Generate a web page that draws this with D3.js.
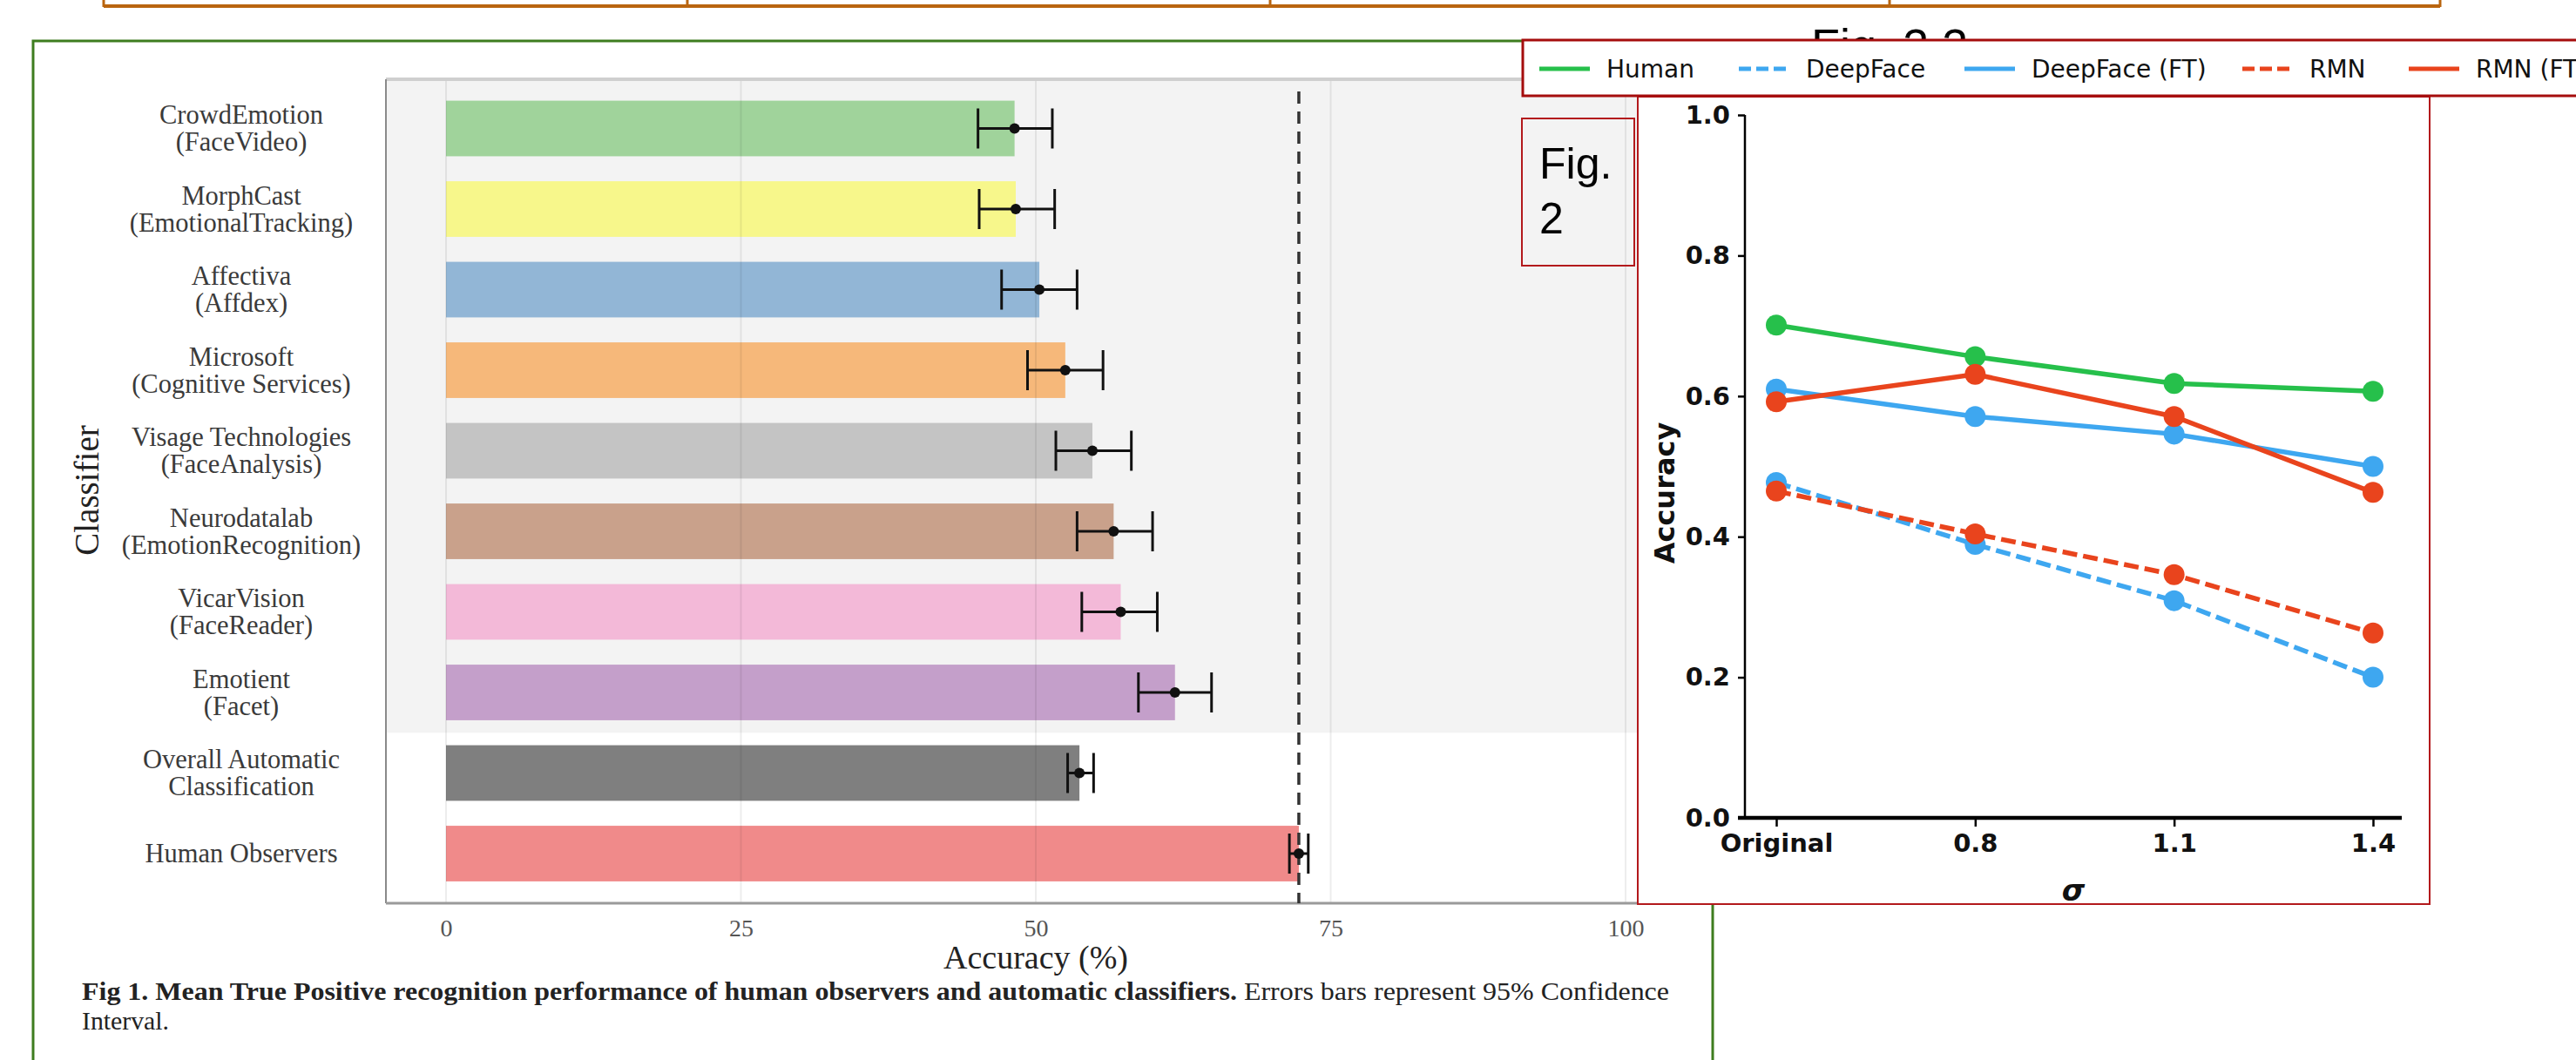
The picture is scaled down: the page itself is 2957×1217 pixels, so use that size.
<!DOCTYPE html>
<html>
<head>
<meta charset="utf-8">
<script src="https://cdn.jsdelivr.net/npm/d3@7"></script>
<style>
  body { margin: 0; background: #fff; }
  svg { display: block; }
</style>
</head>
<body>
<svg id="chart" width="2957" height="1217"></svg>
<script>
// ---- Fig 1 data: classifier accuracy with 95% CI ----
const classifierLines = [
  ['CrowdEmotion', '(FaceVideo)'],
  ['MorphCast', '(EmotionalTracking)'],
  ['Affectiva', '(Affdex)'],
  ['Microsoft', '(Cognitive Services)'],
  ['Visage Technologies', '(FaceAnalysis)'],
  ['Neurodatalab', '(EmotionRecognition)'],
  ['VicarVision', '(FaceReader)'],
  ['Emotient', '(Facet)'],
  ['Overall Automatic', 'Classification'],
  ['Human Observers']
];
const accuracy = [48.2, 48.3, 50.3, 52.5, 54.8, 56.6, 57.2, 61.8, 53.7, 72.3];
const ciLow    = [45.1, 45.2, 47.1, 49.3, 51.7, 53.5, 53.9, 58.7, 52.7, 71.5];
const ciHigh   = [51.4, 51.6, 53.5, 55.7, 58.1, 59.9, 60.3, 64.9, 54.9, 73.1];
const barColors = ['#a0d39b', '#f7f78b', '#92b6d6', '#f6b87a', '#c4c4c4',
                   '#c9a18b', '#f3b9d8', '#c49fca', '#7f7f7f', '#f08a8a'];
const xTicks1 = [0, 25, 50, 75, 100];
const humanMean = 72.3;

// ---- Fig 2 data: accuracy vs blur sigma ----
const sigmaLabels = ['Original', '0.8', '1.1', '1.4'];
const human      = [0.701, 0.656, 0.618, 0.607];
const deepFace   = [0.477, 0.389, 0.309, 0.200];
const deepFaceFT = [0.610, 0.571, 0.546, 0.500];
const rmn        = [0.465, 0.404, 0.346, 0.263];
const rmnFT      = [0.592, 0.631, 0.571, 0.463];
const yTicks2 = [0, 0.2, 0.4, 0.6, 0.8, 1.0];

const green = '#26c04b', blue = '#3ea7f0', red = '#e9441d';
const series = [
  { name: 'Human', values: human, color: green, dash: null },
  { name: 'DeepFace', values: deepFace, color: blue, dash: '17,7' },
  { name: 'DeepFace (FT)', values: deepFaceFT, color: blue, dash: null },
  { name: 'RMN', values: rmn, color: red, dash: '17,7' },
  { name: 'RMN (FT)', values: rmnFT, color: red, dash: null }
];

const svg = d3.select('#chart');

// top table edge (orange)
const tableCols = [119, 789, 1458, 2169, 2801];
svg.append('line').attr('x1', 119).attr('x2', 2801).attr('y1', 7).attr('y2', 7)
  .attr('stroke', '#b9650f').attr('stroke-width', 4);
svg.selectAll('.tcol').data(tableCols).enter().append('line')
  .attr('x1', d => d).attr('x2', d => d).attr('y1', -2).attr('y2', 8)
  .attr('stroke', '#b9650f').attr('stroke-width', 3);

// green frame round Fig 1
svg.append('path')
  .attr('d', 'M38,1230 L38,47 L1966,47 L1966,1230')
  .attr('fill', 'none').attr('stroke', '#3e7d1f').attr('stroke-width', 3);

// ================= Fig 1 =================
const x1 = d3.scaleLinear().domain([0, 100]).range([512, 1866]);
const y1 = d3.scaleBand().domain(d3.range(classifierLines.length))
  .range([101.25, 1026.25]).paddingInner(0.31).paddingOuter(0.155);

const frame = { left: 443, top: 91, right: 1935, bottom: 1037 };
const g1 = svg.append('g').attr('class', 'fig1');

// background: grey for the individual classifiers, white for the summaries
const greyBottom = y1(7) + y1.bandwidth() + (y1.step() - y1.bandwidth()) / 2;
g1.append('rect').attr('x', frame.left).attr('y', frame.top)
  .attr('width', frame.right - frame.left).attr('height', greyBottom - frame.top)
  .attr('fill', '#f3f3f3');

// bars
g1.selectAll('.bar').data(accuracy).enter().append('rect')
  .attr('class', 'bar')
  .attr('x', x1(0))
  .attr('y', (d, i) => y1(i))
  .attr('width', d => x1(d) - x1(0))
  .attr('height', y1.bandwidth())
  .attr('fill', (d, i) => barColors[i]);

// vertical grid lines
g1.selectAll('.grid').data(xTicks1).enter().append('line')
  .attr('x1', d => x1(d)).attr('x2', d => x1(d))
  .attr('y1', frame.top).attr('y2', frame.bottom)
  .attr('stroke', '#000').attr('stroke-opacity', 0.07).attr('stroke-width', 2);

// frame lines
g1.append('line').attr('x1', frame.left).attr('x2', frame.right)
  .attr('y1', frame.top).attr('y2', frame.top).attr('stroke', '#cfcfcf').attr('stroke-width', 4);
g1.append('line').attr('x1', frame.left).attr('x2', frame.left)
  .attr('y1', frame.top).attr('y2', frame.bottom).attr('stroke', '#8a8a8a').attr('stroke-width', 2);
g1.append('line').attr('x1', frame.left).attr('x2', frame.right)
  .attr('y1', frame.bottom).attr('y2', frame.bottom).attr('stroke', '#9a9a9a').attr('stroke-width', 3);

// dashed line at the human mean
g1.append('line').attr('x1', x1(humanMean)).attr('x2', x1(humanMean))
  .attr('y1', 105).attr('y2', frame.bottom)
  .attr('stroke', '#333').attr('stroke-width', 3.5).attr('stroke-dasharray', '14,9');

// error bars
const capH = 46;
const eb = g1.selectAll('.err').data(accuracy).enter().append('g').attr('class', 'err')
  .attr('transform', (d, i) => 'translate(0,' + (y1(i) + y1.bandwidth() / 2) + ')');
eb.append('line').attr('x1', (d, i) => x1(ciLow[i])).attr('x2', (d, i) => x1(ciHigh[i]))
  .attr('stroke', '#111').attr('stroke-width', 3);
eb.append('line').attr('x1', (d, i) => x1(ciLow[i])).attr('x2', (d, i) => x1(ciLow[i]))
  .attr('y1', -capH / 2).attr('y2', capH / 2).attr('stroke', '#111').attr('stroke-width', 3);
eb.append('line').attr('x1', (d, i) => x1(ciHigh[i])).attr('x2', (d, i) => x1(ciHigh[i]))
  .attr('y1', -capH / 2).attr('y2', capH / 2).attr('stroke', '#111').attr('stroke-width', 3);
eb.append('circle').attr('cx', d => x1(d)).attr('r', 6).attr('fill', '#111');

// x axis ticks (labels only)
const xAxis1 = g1.append('g').attr('transform', 'translate(0,' + frame.bottom + ')')
  .call(d3.axisBottom(x1).tickValues(xTicks1).tickSize(0).tickPadding(0));
xAxis1.select('.domain').remove();
xAxis1.selectAll('text')
  .attr('y', 38).attr('dy', 0)
  .attr('font-family', 'Liberation Serif').attr('font-size', 28).attr('fill', '#555');

g1.append('text').attr('x', x1(50)).attr('y', 1112)
  .attr('text-anchor', 'middle').attr('font-family', 'Liberation Serif')
  .attr('font-size', 38).attr('fill', '#222').text('Accuracy (%)');

// classifier labels
const lab = g1.selectAll('.lab').data(classifierLines).enter().append('text')
  .attr('class', 'lab')
  .attr('text-anchor', 'middle')
  .attr('font-family', 'Liberation Serif').attr('font-size', 30.5).attr('fill', '#3a3a3a');
lab.each(function (lines, i) {
  const c = y1(i) + y1.bandwidth() / 2;
  const t = d3.select(this);
  if (lines.length === 1) {
    t.append('tspan').attr('x', 277).attr('y', c + 10).text(lines[0]);
  } else {
    t.append('tspan').attr('x', 277).attr('y', c - 5.5).text(lines[0]);
    t.append('tspan').attr('x', 277).attr('y', c + 25.5).text(lines[1]);
  }
});

g1.append('text').attr('transform', 'translate(113,563) rotate(-90)')
  .attr('text-anchor', 'middle').attr('font-family', 'Liberation Serif')
  .attr('font-size', 39).attr('fill', '#222').text('Classifier');

// caption
const cap = g1.append('text').attr('x', 94).attr('y', 1148)
  .attr('font-family', 'Liberation Serif').attr('font-size', 30).attr('fill', '#222')
  .attr('textLength', 1822).attr('lengthAdjust', 'spacingAndGlyphs');
cap.append('tspan').attr('font-weight', 'bold')
  .text('Fig 1. Mean True Positive recognition performance of human observers and automatic classifiers.');
cap.append('tspan').text(' Errors bars represent 95% Confidence');
g1.append('text').attr('x', 94).attr('y', 1182)
  .attr('font-family', 'Liberation Serif').attr('font-size', 30).attr('fill', '#222')
  .attr('textLength', 100).attr('lengthAdjust', 'spacingAndGlyphs')
  .text('Interval.');

// small "Fig. 2" label box
svg.append('rect').attr('x', 1747).attr('y', 136).attr('width', 129).attr('height', 169)
  .attr('fill', 'none').attr('stroke', '#b3191c').attr('stroke-width', 2);
const figLab = svg.append('text').attr('font-family', 'Liberation Sans')
  .attr('font-size', 50).attr('fill', '#000');
figLab.append('tspan').attr('x', 1767).attr('y', 205).text('Fig.');
figLab.append('tspan').attr('x', 1767).attr('y', 268).text('2');

// heading partly hidden behind the legend
svg.append('clipPath').attr('id', 'headClip')
  .append('rect').attr('x', 2000).attr('y', 0).attr('width', 400).attr('height', 46);
svg.append('text').attr('x', 2079).attr('y', 71).attr('font-family', 'Liberation Sans')
  .attr('clip-path', 'url(#headClip)')
  .attr('font-size', 54).attr('fill', '#000').text('Fig. 2.2');

// ================= Fig 2 =================
svg.append('rect').attr('x', 1880).attr('y', 111).attr('width', 909).attr('height', 927)
  .attr('fill', '#fff').attr('stroke', '#b3191c').attr('stroke-width', 2);

const x2 = d3.scalePoint().domain(sigmaLabels).range([2039, 2724]);
const y2 = d3.scaleLinear().domain([0, 1]).range([939, 132]);
const g2 = svg.append('g').attr('class', 'fig2');

const yAxis2 = g2.append('g').attr('transform', 'translate(2003,0)')
  .call(d3.axisLeft(y2).tickValues(yTicks2).tickFormat(d3.format('.1f')).tickSize(8).tickPadding(9));
yAxis2.select('.domain').attr('stroke-width', 2.5).attr('d', 'M0,' + y2(1) + 'V' + y2(0));
yAxis2.selectAll('.tick line').attr('stroke-width', 2.5);
yAxis2.selectAll('text').attr('font-family', 'DejaVu Sans').attr('font-weight', 'bold')
  .attr('font-size', 29).attr('fill', '#111');

const xAxis2 = g2.append('g').attr('transform', 'translate(0,' + y2(0) + ')')
  .call(d3.axisBottom(x2).tickSize(10).tickPadding(8));
xAxis2.select('.domain').attr('stroke-width', 4.5).attr('d', 'M1995,0H2757');
xAxis2.selectAll('.tick line').attr('stroke-width', 2.5);
xAxis2.selectAll('text').attr('font-family', 'DejaVu Sans').attr('font-weight', 'bold')
  .attr('font-size', 29).attr('fill', '#111');

g2.append('text').attr('transform', 'translate(1922,566) rotate(-90)')
  .attr('text-anchor', 'middle').attr('font-family', 'DejaVu Sans').attr('font-weight', 'bold')
  .attr('font-size', 32).attr('fill', '#111').text('Accuracy');
g2.append('text').attr('x', 2380).attr('y', 1034).attr('text-anchor', 'middle')
  .attr('font-family', 'DejaVu Sans').attr('font-style', 'italic').attr('font-weight', 'bold')
  .attr('font-size', 34).attr('fill', '#111').text('σ');

const line2 = d3.line().x((d, i) => x2(sigmaLabels[i])).y(d => y2(d));
const sg = g2.selectAll('.series').data(series).enter().append('g').attr('class', 'series');
sg.append('path').attr('d', d => line2(d.values))
  .attr('fill', 'none').attr('stroke', d => d.color).attr('stroke-width', 5.5)
  .attr('stroke-dasharray', d => d.dash);
sg.selectAll('circle').data(d => d.values.map(v => ({ v, color: d.color }))).enter()
  .append('circle')
  .attr('cx', (d, i) => x2(sigmaLabels[i])).attr('cy', d => y2(d.v))
  .attr('r', 12).attr('fill', d => d.color);

// legend
svg.append('rect').attr('x', 1748).attr('y', 46).attr('width', 1300).attr('height', 64)
  .attr('fill', '#fff').attr('stroke', '#a50d0d').attr('stroke-width', 3);
const legX = [1767, 1996, 2255, 2574, 2765];
const leg = svg.selectAll('.leg').data(series).enter().append('g').attr('class', 'leg')
  .attr('transform', (d, i) => 'translate(' + legX[i] + ',79)');
leg.append('line').attr('x1', 0).attr('x2', 58)
  .attr('stroke', d => d.color).attr('stroke-width', 5).attr('stroke-dasharray', d => d.dash ? '14,6' : null);
leg.append('text').attr('x', 77).attr('y', 10)
  .attr('font-family', 'DejaVu Sans').attr('font-size', 28).attr('fill', '#111')
  .text(d => d.name);
</script>
</body>
</html>
